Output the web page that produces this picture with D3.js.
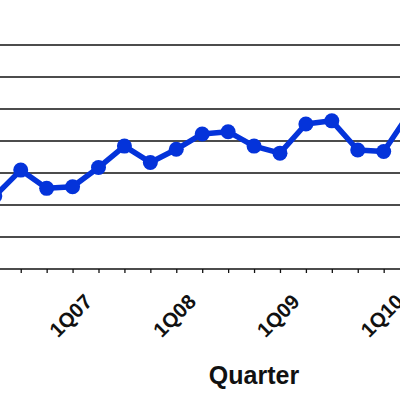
<!DOCTYPE html>
<html>
<head>
<meta charset="utf-8">
<script src="https://cdn.jsdelivr.net/npm/d3@7"></script>
<style>
html,body{margin:0;padding:0;background:#fff;overflow:hidden;}
svg{display:block;}
</style>
</head>
<body>
<svg id="chart" width="400" height="400"></svg>
<script>
const quarters = ["1Q06","2Q06","3Q06","4Q06","1Q07","2Q07","3Q07","4Q07","1Q08","2Q08","3Q08","4Q08","1Q09","2Q09","3Q09","4Q09","1Q10"];
const values = [2.28,3.09,2.52,2.57,3.17,3.84,3.33,3.74,4.22,4.29,3.84,3.62,4.53,4.63,3.72,3.67,4.88];
const labeledQuarters = ["1Q07","1Q08","1Q09","1Q10"];
const yTicks = [1,2,3,4,5,6,7];
const xTitle = "Quarter";

const svg = d3.select("#chart");
const x = d3.scalePoint().domain(quarters).range([-5.2, 409.6]);
const y = d3.scaleLinear().domain([0,7]).range([269,45]);

// gridlines
svg.append("g").selectAll("line").data(yTicks).join("line")
  .attr("x1",-20).attr("x2",420)
  .attr("y1",d=>y(d)).attr("y2",d=>y(d))
  .attr("stroke","#111").attr("stroke-width",1.6);

// x axis
const xAxis = d3.axisBottom(x).tickSize(4).tickFormat("");
const gx = svg.append("g").attr("transform",`translate(0,${y(0)})`).call(xAxis);
gx.select(".domain").attr("d","M-20,0H420").attr("stroke","#111").attr("stroke-width",1.6);
gx.selectAll(".tick line").attr("stroke","#111").attr("stroke-width",1.3);

svg.append("g").selectAll("text").data(labeledQuarters).join("text")
  .attr("transform",d=>`translate(${x(d)-5},${y(0)+34}) rotate(-45)`)
  .attr("text-anchor","end")
  .attr("font-family","Liberation Sans, Arial, sans-serif")
  .attr("font-weight","bold").attr("font-size",20.5)
  .attr("fill","#111")
  .text(d=>d);

svg.append("text")
  .attr("x",254).attr("y",384)
  .attr("text-anchor","middle")
  .attr("font-family","Liberation Sans, Arial, sans-serif")
  .attr("font-weight","bold").attr("font-size",25)
  .attr("fill","#111")
  .text(xTitle);

// line
const line = d3.line().x((d,i)=>x(quarters[i])).y(d=>y(d));
svg.append("path").datum(values)
  .attr("d",line).attr("fill","none")
  .attr("stroke","#0433da").attr("stroke-width",5.5)
  .attr("stroke-linejoin","round");
svg.append("g").selectAll("circle").data(values).join("circle")
  .attr("cx",(d,i)=>x(quarters[i])).attr("cy",d=>y(d))
  .attr("r",7.5).attr("fill","#0433da");
</script>
</body>
</html>
